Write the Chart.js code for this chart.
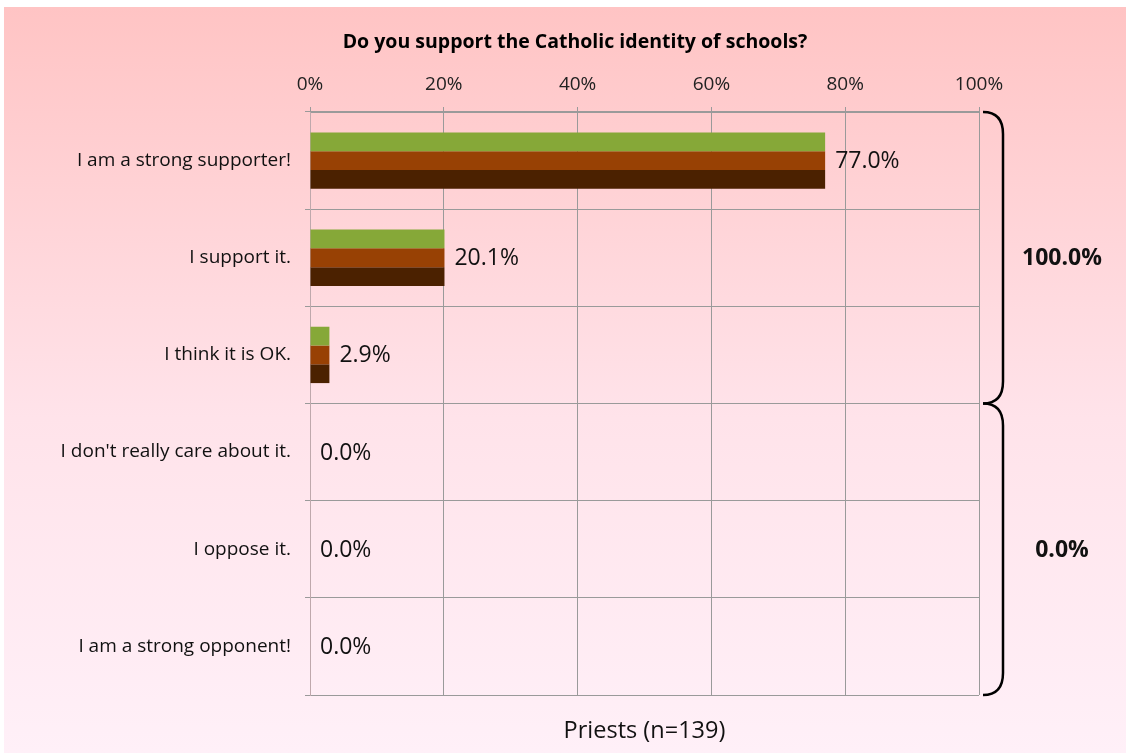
<!DOCTYPE html>
<html><head><meta charset="utf-8">
<script src="https://cdn.jsdelivr.net/npm/chart.js@4/dist/chart.umd.min.js"></script>
<style>html,body{margin:0;padding:0;background:#fff}#wrap{width:1126px;height:753px}</style>
</head><body><div id="wrap"><canvas id="c" width="1126" height="753"></canvas></div>
<script>
const categories = ["I am a strong supporter!","I support it.","I think it is OK.","I don't really care about it.","I oppose it.","I am a strong opponent!"];
const values = [77.0, 20.1, 2.9, 0.0, 0.0, 0.0];
const xTicks = [0, 20, 40, 60, 80, 100];
const groupLabels = ["100.0%", "0.0%"];
const chartTitle = "Do you support the Catholic identity of schools?";
const axisTitle = "Priests (n=139)";
const seriesColors = ["#86a838", "#984104", "#4b2100"];

const FONT = "'Open Sans', Lato, sans-serif";

const bgPlugin = {
  id: 'bg',
  beforeDraw(chart) {
    const ctx = chart.ctx;
    const g = ctx.createLinearGradient(0, 7, 0, 753);
    g.addColorStop(0, '#ffc4c4');
    g.addColorStop(0.55, '#ffe3ea');
    g.addColorStop(1, '#fff0f8');
    ctx.save();
    ctx.fillStyle = '#ffffff';
    ctx.fillRect(0, 0, chart.width, chart.height);
    ctx.fillStyle = g;
    ctx.fillRect(4, 7, chart.width - 4, chart.height - 7);
    ctx.restore();
  }
};

const decorPlugin = {
  id: 'decor',
  afterDatasetsDraw(chart) {
    const ctx = chart.ctx;
    const ca = chart.chartArea;
    const ys = chart.scales.y;
    const meta = chart.getDatasetMeta(1);
    ctx.save();
    ctx.fillStyle = '#111';
    ctx.font = "23px " + FONT;
    ctx.textBaseline = 'middle';
    ctx.textAlign = 'left';
    meta.data.forEach((el, i) => {
      ctx.fillText(values[i].toFixed(1) + '%', el.x + 10, el.y + 1);
    });
    ctx.font = "bold 19.5px " + FONT;
    ctx.textAlign = 'center';
    ctx.fillStyle = '#000';
    ctx.fillText(chartTitle, 575, 42);
    ctx.font = "23.5px " + FONT;
    ctx.fillStyle = '#111';
    ctx.fillText(axisTitle, (ca.left + ca.right) / 2, 731);
    const mid = (ys.getPixelForValue(2) + ys.getPixelForValue(3)) / 2;
    const x0 = ca.right + 4, x1 = ca.right + 24, r = 22;
    function brace(top, bot, labelText) {
      const m = (top + bot) / 2;
      ctx.beginPath();
      ctx.moveTo(x0, top);
      ctx.quadraticCurveTo(x1, top, x1, top + r);
      ctx.lineTo(x1, bot - r);
      ctx.quadraticCurveTo(x1, bot, x0, bot);
      ctx.stroke();
      ctx.font = "bold 23px " + FONT;
      ctx.fillStyle = '#111';
      ctx.textAlign = 'center';
      ctx.fillText(labelText, 1062, m + 1);
    }
    ctx.strokeStyle = '#000';
    ctx.lineWidth = 2.5;
    brace(ca.top, mid, groupLabels[0]);
    brace(mid, ca.bottom, groupLabels[1]);
    ctx.restore();
  }
};

new Chart(document.getElementById('c'), {
  type: 'bar',
  data: {
    labels: categories,
    datasets: seriesColors.map((col, k) => ({
      label: 'S' + k,
      data: values,
      backgroundColor: col,
      borderWidth: 0,
      categoryPercentage: 0.58,
      barPercentage: 1.0
    }))
  },
  options: {
    indexAxis: 'y',
    responsive: false,
    animation: false,
    layout: { padding: { left: 0, right: 147, top: 0, bottom: 58 } },
    plugins: { legend: { display: false }, tooltip: { enabled: false }, title: { display: false } },
    scales: {
      x: {
        position: 'top',
        min: 0, max: 100,
        afterBuildTicks(scale) { scale.ticks = xTicks.map(v => ({ value: v })); },
        afterFit(scale) { scale.height = 112; },
        ticks: { callback: v => v + '%', color: '#222', font: { family: FONT, size: 19 }, padding: 11, maxRotation: 0 },
        grid: { color: '#9a9a9a', lineWidth: 1, tickLength: 5, drawTicks: true },
        border: { color: '#9a9a9a', width: 1 }
      },
      y: {
        afterFit(scale) { scale.width = 310; },
        ticks: { color: '#111', font: { family: FONT, size: 19 }, padding: 14 },
        grid: { color: '#9a9a9a', lineWidth: 1, tickLength: 5, offset: true },
        border: { color: '#bfa8ac', width: 1 }
      }
    }
  },
  plugins: [bgPlugin, decorPlugin]
});
</script></body></html>
